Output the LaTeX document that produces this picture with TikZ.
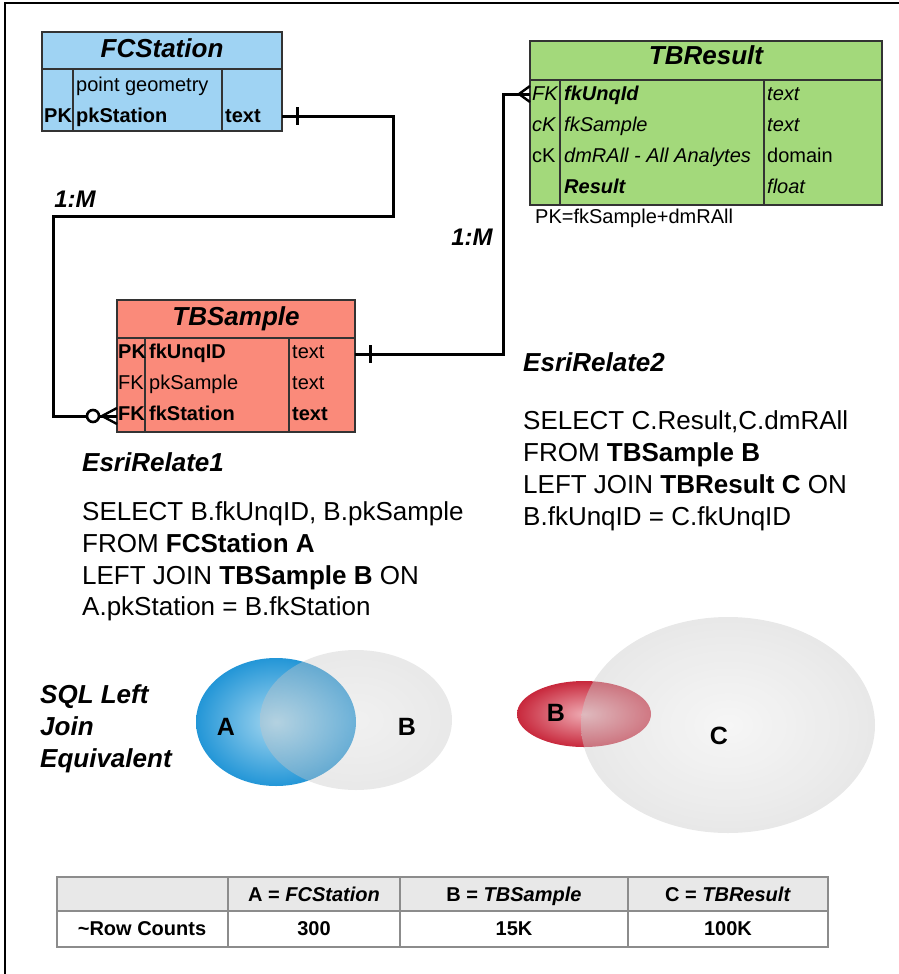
\documentclass[tikz,border=0pt]{standalone}
\usepackage{fontspec}
\setmainfont{Liberation Sans}
\definecolor{fcblue}{HTML}{9FD3F3}
\definecolor{tbred}{HTML}{FA8A7A}
\definecolor{trgreen}{HTML}{A3D97B}
\definecolor{edge}{HTML}{333333}
\definecolor{hdrgray}{HTML}{E8E8E8}
\begin{document}
\begin{tikzpicture}[x=1pt,y=-1pt,
  tbl/.style={draw=edge, line width=1.3pt, inner sep=0pt},
  conn/.style={line width=3pt, black},
  cell/.style={anchor=base west, inner sep=0pt, font=\fontsize{20}{24}\selectfont},
  ttl/.style={anchor=base, inner sep=0pt, font=\fontsize{26}{30}\selectfont\bfseries\itshape},
  sql/.style={anchor=base west, inner sep=0pt, font=\fontsize{26}{30}\selectfont},
  head/.style={anchor=base west, inner sep=0pt, font=\fontsize{26}{30}\selectfont\bfseries\itshape},
  ratio/.style={anchor=base, inner sep=0pt, font=\fontsize{24}{28}\selectfont\bfseries\itshape},
  vlab/.style={inner sep=0pt, font=\fontsize{25}{28}\selectfont\bfseries},
  tcell/.style={anchor=base, inner sep=0pt, font=\fontsize{20}{24}\selectfont\bfseries},
  grid/.style={draw=black!45, line width=1.2pt}]
\useasboundingbox (0,0) rectangle (899,974);
\draw[line width=1.5pt] (5,974) -- (5,3) -- (899,3);

% ---------- FCStation ----------
\node[tbl, fill=fcblue, minimum width=240pt, minimum height=99pt] (fcs) at (162,81.5) {};
\draw[tbl] (42,69) -- (282,69) (73,69) -- (73,131) (222,69) -- (222,131);
\node[ttl] (fcsT) at (162,57) {FCStation};
\node[cell] (fcs1b) at (76,92) {point geometry};
\node[cell, font=\fontsize{20}{24}\selectfont\bfseries] (fcs2a) at (44,122) {PK};
\node[cell, font=\fontsize{20}{24}\selectfont\bfseries] (fcs2b) at (76,122) {pkStation};
\node[cell, font=\fontsize{20}{24}\selectfont\bfseries] (fcs2c) at (225,122) {text};
\coordinate (fcsPK) at (282,116);

% ---------- TBResult ----------
\node[tbl, fill=trgreen, minimum width=352pt, minimum height=164pt] (tbr) at (706,123) {};
\draw[tbl] (530,80) -- (882,80) (560,80) -- (560,205) (764,80) -- (764,205);
\node[ttl] (tbrT) at (706,65) {TBResult};
\node[cell, font=\fontsize{20}{24}\selectfont\itshape] (tbr1a) at (532,100) {FK};
\node[cell, font=\fontsize{20}{24}\selectfont\bfseries\itshape] (tbr1b) at (564,100) {fkUnqId};
\node[cell, font=\fontsize{20}{24}\selectfont\itshape] (tbr1c) at (767,100) {text};
\node[cell, font=\fontsize{20}{24}\selectfont\itshape] (tbr2a) at (532,131) {cK};
\node[cell, font=\fontsize{20}{24}\selectfont\itshape] (tbr2b) at (564,131) {fkSample};
\node[cell, font=\fontsize{20}{24}\selectfont\itshape] (tbr2c) at (767,131) {text};
\node[cell] (tbr3a) at (532,162) {cK};
\node[cell, font=\fontsize{20}{24}\selectfont\itshape] (tbr3b) at (564,162) {dmRAll - All Analytes};
\node[cell] (tbr3c) at (767,162) {domain};
\node[cell, font=\fontsize{20}{24}\selectfont\bfseries\itshape] (tbr4b) at (564,193) {Result};
\node[cell, font=\fontsize{20}{24}\selectfont\itshape] (tbr4c) at (767,193) {float};
\node[cell] (tbrPK) at (535,223) {PK=fkSample+dmRAll};
\coordinate (tbrFK) at (530,94);

% ---------- TBSample ----------
\node[tbl, fill=tbred, minimum width=238pt, minimum height=132pt] (tbs) at (236,366) {};
\draw[tbl] (117,338) -- (355,338) (145,338) -- (145,432) (289,338) -- (289,432);
\node[ttl] (tbsT) at (236,325) {TBSample};
\node[cell, font=\fontsize{20}{24}\selectfont\bfseries] (tbs1a) at (118,358) {PK};
\node[cell, font=\fontsize{20}{24}\selectfont\bfseries] (tbs1b) at (149,358) {fkUnqID};
\node[cell] (tbs1c) at (292,358) {text};
\node[cell] (tbs2a) at (118,389) {FK};
\node[cell] (tbs2b) at (149,389) {pkSample};
\node[cell] (tbs2c) at (292,389) {text};
\node[cell, font=\fontsize{20}{24}\selectfont\bfseries] (tbs3a) at (118,420) {FK};
\node[cell, font=\fontsize{20}{24}\selectfont\bfseries] (tbs3b) at (149,420) {fkStation};
\node[cell, font=\fontsize{20}{24}\selectfont\bfseries] (tbs3c) at (292,420) {text};
\coordinate (tbsUQ) at (355,354);
\coordinate (tbsFK) at (117,416);

% ---------- connectors ----------
\draw[conn] (fcsPK) -- (393,116) -- (393,216) -- (53,216) -- (53,416) -- (tbsFK);
\draw[conn] (297,107) -- (297,125);
\draw[conn, fill=white, line width=2.6pt] (93,416) circle (6);
\draw[conn, line width=2.4pt] (102,416) -- (117,408) (102,416) -- (117,424);
\node[ratio] (r1) at (75,207) {1:M};

\draw[conn] (tbsUQ) -- (503,354) -- (503,94) -- (tbrFK);
\draw[conn] (370,345) -- (370,363);
\draw[conn, line width=2.4pt] (519,94) -- (530,86) (519,94) -- (530,102);
\node[ratio] (r2) at (472,245) {1:M};

% ---------- SQL texts ----------
\node[head] (er1) at (82,471) {EsriRelate1};
\node[sql] (s1a) at (82,520) {SELECT B.fkUnqID, B.pkSample};
\node[sql] (s1b) at (82,552) {FROM \textbf{FCStation A}};
\node[sql] (s1c) at (82,584) {LEFT JOIN \textbf{TBSample B} ON};
\node[sql] (s1d) at (82,615) {A.pkStation = B.fkStation};

\node[head] (er2) at (523,371) {EsriRelate2};
\node[sql] (s2a) at (523,429) {SELECT C.Result,C.dmRAll};
\node[sql] (s2b) at (523,461) {FROM \textbf{TBSample B}};
\node[sql] (s2c) at (523,493) {LEFT JOIN \textbf{TBResult C} ON};
\node[sql] (s2d) at (523,525) {B.fkUnqID = C.fkUnqID};

% ---------- Venn ----------
\node[head] (sq1) at (40,703) {SQL Left};
\node[head] (sq2) at (40,735) {Join};
\node[head] (sq3) at (40,767) {Equivalent};

\shade[inner color={rgb,255:red,165;green,215;blue,240}, outer color={rgb,255:red,35;green,150;blue,215}] (276,722) ellipse (80 and 64);
\shade[inner color=black!14, outer color=black!22, fill opacity=0.4] (356,720) ellipse (96 and 70);
\node[vlab] (vA) at (226,727) {A};
\node[vlab] (vB) at (407,727) {B};

\shade[inner color={rgb,255:red,238;green,170;blue,178}, outer color={rgb,255:red,200;green,40;blue,60}] (584,714) ellipse (67 and 33);
\shade[inner color=black!8, outer color=black!20, fill opacity=0.45] (728,725) ellipse (147 and 108);
\node[vlab] (vB2) at (556,713) {B};
\node[vlab] (vC) at (719,736) {C};

% ---------- counts table ----------
\fill[hdrgray] (57,877) rectangle (828,911);
\draw[grid] (57,877) rectangle (828,947);
\draw[grid] (57,911) -- (828,911) (228,877) -- (228,947) (400,877) -- (400,947) (628,877) -- (628,947);
\node[tcell] (h1) at (314,901) {A = \textit{FCStation}};
\node[tcell] (h2) at (514,901) {B = \textit{TBSample}};
\node[tcell] (h3) at (728,901) {C = \textit{TBResult}};
\node[tcell] (c0) at (142,935) {\textasciitilde Row Counts};
\node[tcell] (c1) at (314,935) {300};
\node[tcell] (c2) at (514,935) {15K};
\node[tcell] (c3) at (728,935) {100K};
\end{tikzpicture}
\end{document}
